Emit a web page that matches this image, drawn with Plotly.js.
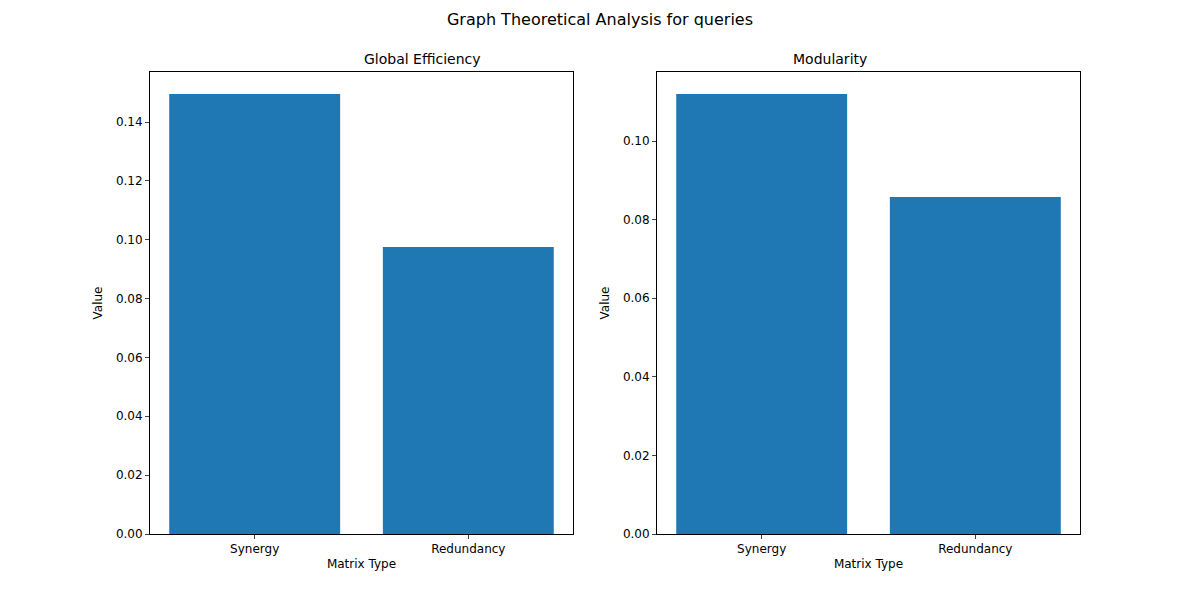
<!DOCTYPE html>
<html>
<head>
<script src="https://cdn.plot.ly/plotly-3.0.1.min.js"></script>
<style>body{margin:0}</style>
</head>
<body>
<div id="chart" style="width:1200px;height:600px"></div>
<script>
var categories = ['Synergy', 'Redundancy'];
var efficiencyValues = [0.1495, 0.0975];
var modularityValues = [0.112, 0.0858];

var font = {family: 'DejaVu Sans', size: 12, color: '#000'};

function axisX(domain, anchor) {
	return {domain: domain, anchor: anchor, range: [-0.49, 1.49], showline: true, mirror: true,
		linecolor: '#000', ticks: 'outside', ticklen: 4, showgrid: false, zeroline: false,
		title: {text: 'Matrix Type', font: font, standoff: 4}, tickfont: font};
}
function axisY(domain, anchor, max, dtick) {
	return {domain: domain, anchor: anchor, range: [0, max], dtick: dtick, tickformat: '.2f',
		showline: true, mirror: true, linecolor: '#000', ticks: 'outside', ticklen: 4,
		showgrid: false, zeroline: false, title: {text: 'Value', font: font, standoff: 10}, tickfont: font};
}

var data = [
	{x: categories, y: efficiencyValues, type: 'bar', width: 0.8, marker: {color: '#1f77b4'}, xaxis: 'x', yaxis: 'y'},
	{x: categories, y: modularityValues, type: 'bar', width: 0.8, marker: {color: '#1f77b4'}, xaxis: 'x2', yaxis: 'y2'}
];

var layout = {
	width: 1200, height: 600, showlegend: false,
	margin: {l: 0, r: 0, t: 0, b: 0},
	paper_bgcolor: '#fff', plot_bgcolor: '#fff', font: font,
	title: {text: 'Graph Theoretical Analysis for queries', font: {family: 'DejaVu Sans', size: 16}, x: 0.5, y: 0.967, yanchor: 'middle'},
	xaxis: axisX([0.125, 0.4775], 'y'),
	yaxis: axisY([0.11, 0.88], 'x', 0.157, 0.02),
	xaxis2: axisX([0.5475, 0.9], 'y2'),
	yaxis2: axisY([0.11, 0.88], 'x2', 0.1176, 0.02),
	annotations: [
		{text: 'Global Efficiency', xref: 'paper', yref: 'paper', x: 0.30125, y: 0.885, yanchor: 'bottom', showarrow: false, font: {family: 'DejaVu Sans', size: 14}},
		{text: 'Modularity', xref: 'paper', yref: 'paper', x: 0.72375, y: 0.885, yanchor: 'bottom', showarrow: false, font: {family: 'DejaVu Sans', size: 14}}
	]
};

Plotly.newPlot('chart', data, layout, {staticPlot: true});
</script>
</body>
</html>
